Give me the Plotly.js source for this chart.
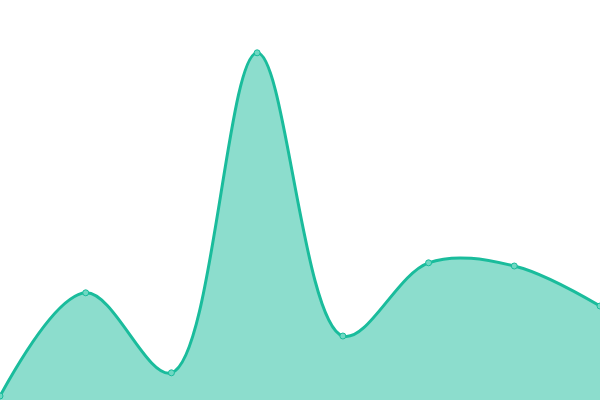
<!DOCTYPE html>
<html>
<head>
<meta charset="utf-8">
<script src="https://cdn.plot.ly/plotly-3.0.1.min.js"></script>
<style>
  html, body { margin: 0; padding: 0; background: #fff; }
  #chart { width: 600px; height: 400px; }
</style>
</head>
<body>
<div id="chart"></div>
<script>
// values, y axis 0..100
var xs = [0, 1, 2, 3, 4, 5, 6, 7];
var ys = [1, 26.8, 6.8, 86.8, 16, 34.3, 33.5, 23.5];

var trace = {
  x: xs,
  y: ys,
  type: 'scatter',
  mode: 'lines+markers',
  fill: 'tozeroy',
  fillcolor: 'rgba(26,188,156,0.5)',
  line: { shape: 'spline', smoothing: 1, color: '#1abc9c', width: 3 },
  marker: {
    size: 6,
    color: '#6fd8c3',
    line: { color: '#1abc9c', width: 1 }
  },
  cliponaxis: false,
  hoverinfo: 'none'
};

var layout = {
  width: 600,
  height: 400,
  margin: { l: 0, r: 0, t: 0, b: 0 },
  paper_bgcolor: '#fff',
  plot_bgcolor: '#fff',
  showlegend: false,
  xaxis: { range: [0, 7], visible: false, fixedrange: true },
  yaxis: { range: [0, 100], visible: false, fixedrange: true }
};

Plotly.newPlot('chart', [trace], layout, { displayModeBar: false, staticPlot: true });
</script>
</body>
</html>
